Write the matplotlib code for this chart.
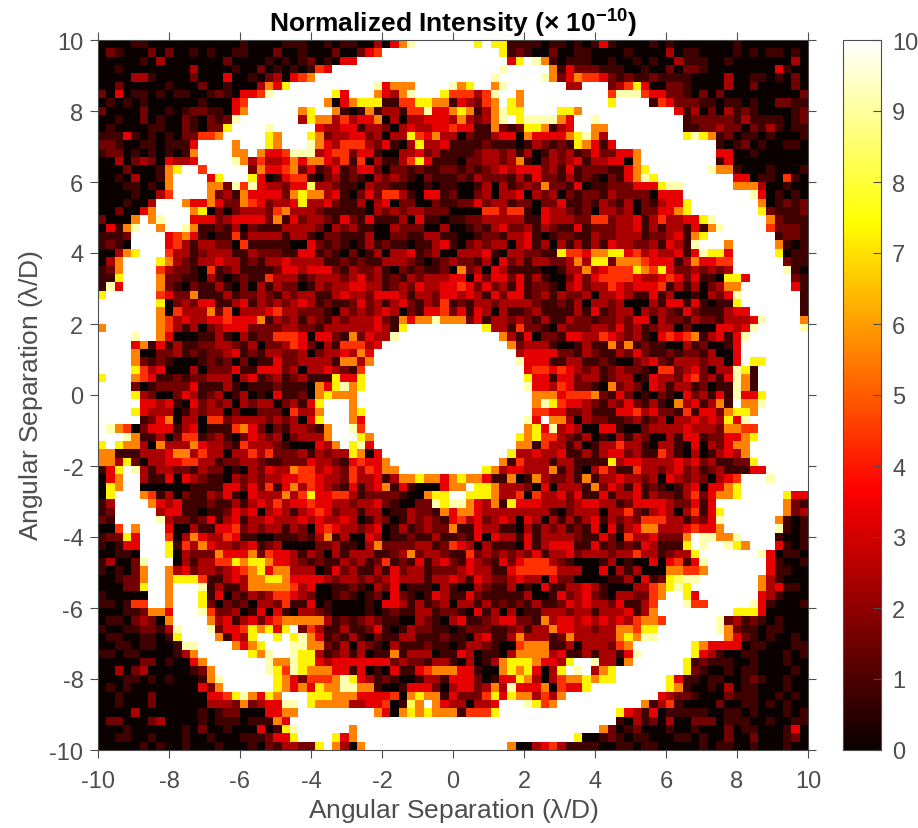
import numpy as np
import matplotlib
matplotlib.use("Agg")
import matplotlib.pyplot as plt

# intensity, one string per row from the top (+10) down,
# blocks of ten cells, each character is a colour class from the colorbar
intensity_rows = [
    "0000110000 0000000100 0011100101 10030469xx xxxxx7x771 1110110101 4100001010 0000001000 00000",
    "0210002020 0101001100 0200100020 0245xxxxxx xxxxxxxx71 2100200110 0001000030 1100001010 11010",
    "0000010300 0000020000 1010120104 4xxxxxxxxx xxxxxxxxx4 7x96101110 0100101003 1110010000 00030",
    "0010000000 0300001002 01010154xx xxxxxxxxxx xxxxxxxx9x xxxx614222 1110010020 2210000000 04100",
    "0000331000 0200040010 230456xxxx xxxxxxxxxx xxxxxxx9xx xxx9624655 4212112111 1000030011 01020",
    "0020000010 0020010003 647xxxxxxx xxx94666xx xx967xx69x xxxxxx33xx x235740022 1000030020 00020",
    "2040110101 1001210445 9xxxxxxx74 xxx64369xx x7555359xx 6xxxxxxxxx x599954422 1020200000 00002",
    "0101010000 00100045xx xxxxxxx604 6777115577 66143256x7 6xxxxxxxxx x7xxxx1542 2211011010 02211",
    "2000020010 12211046xx xxxx67xx61 0161331559 4467613697 7xxxx776xx xxxxxxxxx4 1302031210 00012",
    "0010020100 2102129xxx xxxx376635 3446030334 443632369x 7999964xx9 xxxxxxxxxx 1222221311 11012",
    "0100001100 210227xxxx 9xxxxx4334 4133203433 4454411621 2776134xx6 6xxxxxxxxx 1122322021 31011",
    "1114101010 22556xxxxx 76xxx76233 4423033754 6330211344 0644446796 3xxxxxxxxx 7976120110 10001",
    "2210011011 14xxxx6xxx 76xxx96435 5532410373 3411112111 0132121764 14xxxxxxxx xxxx101201 00110",
    "1220101010 16xxxx66x6 4459993455 2441003342 3111123323 1301323124 22446xxxxx xxxx440010 00000",
    "0030232043 34xxxx9635 3346466435 1503113574 1110223323 6102323413 34406xxxxx xxxx140000 00000",
    "0002000167 xx5xxxxx26 4456241241 2442022121 1221212343 4442314122 211467xxxx xxx9661000 10001",
    "001030016x xxx47xxx74 0145510231 2103232102 1112132221 3142213121 0214697xxx xxxxxx4401 10510",
    "000110106x xxx6629594 3324483321 1032211001 0110013031 2326221401 1222444799 xxxxxx6663 00100",
    "000010035x xxx6231644 4426766341 0242553104 4120023033 4032302122 1322220444 xxxxxxxx94 01010",
    "0001003xxx 6446422654 2334733421 1303402200 2112242331 2202241121 3213021344 7xxxxxxxx6 01212",
    "0020046xxx x670202333 2563332111 1103232332 2200005535 5104332120 3323022446 7xxxxxxxx7 21112",
    "20006x69xx x444234444 2614233214 2141113041 1011223333 3114333225 5233413533 4479xxxxxx 62111",
    "04169xx6xx 9611213021 1133332032 3110032220 0300121342 2313211412 2233413133 14169xxxxx 52221",
    "1112xxxx45 6410115133 3313310221 1130022113 3110012213 3410122113 2233312234 167xxxxxxx x1221",
    "1210xxxx45 3133220511 1110042121 0131211011 3410232330 3413031313 1433223143 19xxx6xxxx x6101",
    "00367xxx53 3123331132 2211441210 2013033412 3003334103 3221175546 6774534334 149774xxxx x7011",
    "036xxxx763 2133433121 3343333112 1211333210 1232213042 3133223637 7266654441 364455xxxx xx211",
    "126xxxx532 2105123111 1244344421 3223102121 1206230431 1110013363 4555765742 232323xxxx xx910",
    "117xxxx622 1103101211 5333123332 3423121323 3344042442 4131002424 5555433454 24110774xx xxx21",
    "194xxxx621 0211310203 1322013233 4433123243 3445424231 4122103423 3543444513 1302366xxx xxx41",
    "7xxxxxx542 2611131223 2132331134 3324443133 2443431424 4123132230 3343114130 0103249xxx xxxx1",
    "xxxxxxx702 3244113413 2323431211 2423134213 2512133233 3321121303 3230003144 1410117xxx xxxx1",
    "xxxxxxx605 3336250333 4533222103 2323430214 4524143031 1231111314 1233032321 42111344xx xxxx1",
    "xxxxxxx653 4334454446 1323132132 3334216466 9666241332 3213113221 2232440322 1322133349 xxxx6",
    "6xxxxxx653 1302344422 2233221333 3334317xxx xxxxxx7331 5221032223 3242312330 200044349x xxxx9",
    "xxxx9xx640 0011310312 2555404421 624339xxxx xxxxxxxx63 1402214433 5432310454 56134149xx xxxxx",
    "xxxx461413 1122332130 2235420315 5534xxxxxx xxxxxxxxx6 2333100131 1626121100 3120014xxx xxxxx",
    "xxxx600223 1212234121 3322302334 364xxxxxxx xxxxxxxxxx 3444422132 1132421121 2213004xxx xxxxx",
    "xxxx621210 0012120201 1422333316 636xxxxxxx xxxxxxxxxx 9444113311 2100234213 3323304x77 xxxxx",
    "xxxx753400 0302224114 4423033432 15xxxxxxxx xxxxxxxxxx x455454323 1232210552 342033971x xxxxx",
    "7xxx654112 1223330341 2312311174 47xxxxxxxx xxxxxxxxxx x744144233 1233014332 452314961x xxxxx",
    "xxxx201222 2411131011 1211106479 67xxxxxxxx xxxxxxxxxx x944354221 0623204313 312011961x xxxxx",
    "xxxx732002 4312301301 0411206766 6xxxxxxxxx xxxxxxxxxx xx66645556 2142010210 4231419447 xxxxx",
    "xxxxx44341 0423230323 3023147xxx 6xxxxxxxxx xxxxxxxxxx xx69754432 1324213106 341361x669 xxxxx",
    "xxxx743330 1323302002 2205336xxx 67xxxxxxxx xxxxxxxxxx xx55442231 1144534221 514426776x xxxxx",
    "xxxxx12460 3305523333 2323047xxx 64xxxxxxxx xxxxxxxxxx x94x663032 2112312303 34343749xx xxxxx",
    "x965024441 3401115642 02133216xx 95xxxxxxxx xxxxxxxxxx x674934300 4410023333 433326655x xxxxx",
    "xxx9611302 5512310243 23023336xx x76xxxxxxx xxxxxxxxxx 7675532130 1031320031 441224467x xxxxx",
    "7x76630633 3643321533 321000436x 794xxxxxxx xxxxxxxxxx 6615331301 3353310331 04032466xx xxxxx",
    "6611133346 6353303353 5222313233 7604xxxxxx xxxxxxxxx7 3343341131 3442311531 03013436xx xxxxx",
    "6637203344 5533122332 1122243321 45446xxxxx xxxxxxxx61 5333133111 1734433334 342311227x xxxxx",
    "147x931332 2132201032 4336553432 535466xxxx xxxxxx7634 4333613103 5311533234 2312311144 xxxxx",
    "046xx31140 4321103232 3344554332 5334136676 6467664116 0163223161 3343323043 2320345xxx 9xxxx",
    "076xx00000 0111144242 5146354321 4134614100 0466x77633 3204033316 2431412101 3404467xxx xxxxx",
    "07xxx65130 2113241043 3363574455 3122221006 77xx777633 5053342411 4133413221 3524667xxx xx744",
    "13xxxx6434 1112113134 3534454433 2334210022 9799643617 4443332344 3312444432 2414xxxxxx xx621",
    "12xxxxx344 1101124340 3431345423 3133011322 1646643333 3333102333 0335213430 35147xxxxx xx623",
    "21xxxxx932 2124134133 4333434334 3013201323 2145342343 0430313134 1323255533 13249xxxxx x6101",
    "005x6xxx40 0311445232 3313204543 3234013123 2261143311 0313231214 0413466333 45446xxxxx x9101",
    "12274xxx50 3643354110 0111213613 0043011211 3112140433 1413333211 4205334222 6x99669xxx x1001",
    "10144xxx71 5364332341 2300002231 1036222233 1254303111 0413444114 1212143111 7x9xx976xx x4101",
    "00110xxx70 3222644462 5443132031 3331123623 3211523232 3241334233 3233533123 37xxxxxxx9 40110",
    "130029xxx0 3133557677 6443212113 2312512141 3421432142 4555321000 1301004045 149xxxxxxx 41001",
    "101026xx63 4233234567 4663330142 3113142331 2223433114 5555533300 4031300066 556xxxxxxx 41100",
    "001226xx67 7751134366 7764444323 3232343331 3343143223 4330422000 0113041278 99xxxxxxx6 31000",
    "000227xx6x xx91311366 6665340011 2103240111 0310032113 0104113343 1000335679 7xxxxxxxx6 34110",
    "100000xx6x xx71402132 3554320012 1012042101 4311421111 1300142342 10332256xx 74xxxxxxx4 31000",
    "110155xx6x xx72021203 3251140100 0010443131 2303313121 2131124343 3241135xxx 955xxxxx94 10001",
    "000112664x xx95223014 0410332100 0010121133 1221041303 0113332331 3334136xxx xxxxxx7774 00000",
    "011023206x xxx6341342 4566666312 1232110032 1034112344 2216344343 43435665xx xxxx923121 01000",
    "1001122139 xxx9244576 747x253113 1124101322 1101222112 3133644332 3366577xxx xxxx962110 11000",
    "0110011017 xxxx61437x x7x7964121 3102113311 1211034113 6333126333 3367699xxx xxxxx64210 10010",
    "0011011001 99xxxx6467 xxx9966213 0321031112 1101332100 5666113033 3256xxxxxx x764444011 00011",
    "1101100001 36xxxxxx76 9xx9773123 1301161333 0114301103 6666341131 33149xxxxx x743100110 00101",
    "0000022010 046xxxxxxx 9669774344 4444423221 3310301367 7764437xx9 3306xxxxxx 7121110010 00100",
    "0030230000 0126xxxxxx 9759766644 1401041145 6664410067 674037x9x3 67xxxxxxxx 7210010110 00010",
    "0001101010 00169xxxxx x764255569 7431210013 3144420144 7630356676 77xxxxxx74 1101100121 00100",
    "0101000000 00426xxxxx x764647669 9661001444 2034423639 444605447x xxxxxxxx76 1001030110 00100",
    "0010002000 0004457964 76xxx77766 6444450676 6142225747 663536xxxx xxxxxxx432 2100021110 01010",
    "0010002000 0003332623 4499x76666 334450186x 64330334xx x9756xxxxx xxxxx61351 0000200110 10100",
    "0000300000 0010122000 4466xxxxxx xxx6406767 66615557xx xxxxxxxxxx xx74314011 1110011010 00101",
    "0220002300 0010111011 164xxxxxxx xxxxxxxxxx xxxxxxxxxx xxxxxxxxxx xx10312030 0222011100 10011",
    "0001000000 1020010004 0179xxxxxx 6xxxxxxxxx xxxxxxxxxx xxxxxxxxxx 6201200010 0100020110 00140",
    "0011001000 1001000111 2447xxxx74 6xxxxxxxxx xxxxxxxxxx xxxxxxx700 1210110001 1010020020 00120",
    "0000010100 1000100010 2133227x63 06xxxxxxxx xxxxxxxxx6 0034531111 0011011000 0010110010 00100",
]

# value of each colour class, read against the colorbar
class_values = {"0": 0.0, "1": 0.8, "2": 1.6, "3": 2.4, "4": 3.3, "5": 4.4,
                "6": 5.6, "7": 7.3, "8": 8.3, "9": 9.2, "x": 10}

ticks_xy = [-10, -8, -6, -4, -2, 0, 2, 4, 6, 8, 10]
ticks_cbar = [0, 1, 2, 3, 4, 5, 6, 7, 8, 9, 10]
title = "Normalized Intensity ($\\times$ 10$^{-10}$)"
xlabel = "Angular Separation ($\\lambda$/D)"
ylabel = "Angular Separation ($\\lambda$/D)"


def parse_rows(rows):
    grid = []
    for row in rows:
        cells = row.replace(" ", "")
        grid.append([class_values[c] for c in cells])
    return np.array(grid)


def main():
    plt.rcParams["font.family"] = ["Liberation Sans", "DejaVu Sans"]
    plt.rcParams["axes.unicode_minus"] = False
    plt.rcParams["mathtext.default"] = "regular"
    plt.rcParams["mathtext.fontset"] = "stix"

    data = parse_rows(intensity_rows)

    w, h = 918, 829
    gray = "#4d4d4d"
    fig = plt.figure(figsize=(w / 100, h / 100), dpi=100)
    ax = fig.add_axes([98 / w, 1 - 751 / h, 710 / w, 710 / h])
    cax = fig.add_axes([843 / w, 1 - 751 / h, 38 / w, 710 / h])

    im = ax.imshow(data, cmap="hot", vmin=0, vmax=10, extent=[-10, 10, -10, 10],
                   aspect="auto", interpolation="nearest")
    ax.set_xticks(ticks_xy)
    ax.set_yticks(ticks_xy)
    ax.tick_params(direction="out", length=5.5, width=0.8, color=gray,
                   labelcolor=gray, labelsize=17, top=True, right=True)
    ax.tick_params(axis="x", pad=9)
    ax.tick_params(axis="y", pad=5)
    for s in ax.spines.values():
        s.set_color(gray)
        s.set_linewidth(0.8)
    ax.set_xlabel(xlabel, fontsize=19, color=gray, labelpad=3)
    ax.set_ylabel(ylabel, fontsize=19, color=gray, labelpad=3)
    ax.set_title(title, fontsize=19, fontweight="bold", color="black", pad=6)

    cb = fig.colorbar(im, cax=cax)
    cb.set_ticks(ticks_cbar)
    cb.ax.tick_params(direction="in", length=5.5, width=0.8, color=gray,
                      labelcolor=gray, labelsize=17, pad=8)
    cb.outline.set_edgecolor(gray)
    cb.outline.set_linewidth(0.8)

    fig.savefig("out.png", dpi=100)


if __name__ == "__main__":
    main()
